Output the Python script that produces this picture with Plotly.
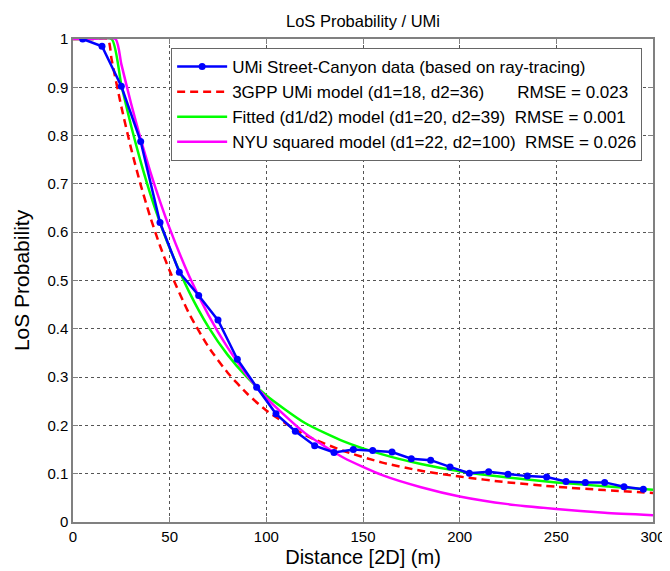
import plotly.graph_objects as go

# ---- data ----
data_x = [5, 15, 25, 35, 45, 55, 65, 75, 85, 95,
          105, 115, 125, 135, 145, 155, 165, 175, 185, 195,
          205, 215, 225, 235, 245, 255, 265, 275, 285, 295]
data_y = [1.0, 0.985, 0.902, 0.788, 0.62, 0.517, 0.469, 0.418, 0.337, 0.279,
          0.224, 0.188, 0.158, 0.144, 0.150, 0.148, 0.145, 0.131, 0.128, 0.114,
          0.101, 0.104, 0.099, 0.095, 0.093, 0.084, 0.082, 0.082, 0.073, 0.068]

gpp_x = [0, 10, 18, 20, 25, 30, 35, 40, 45, 50, 60, 70, 80, 90, 100,
         120, 140, 160, 180, 200, 225, 250, 275, 300]
gpp_y = [1.0, 1.0, 1.0, 0.957, 0.860, 0.774, 0.698, 0.631, 0.572, 0.520, 0.432, 0.363, 0.309, 0.266, 0.231,
         0.180, 0.147, 0.123, 0.106, 0.094, 0.082, 0.073, 0.066, 0.060]

fit_x = [0, 10, 20, 25, 30, 35, 40, 45, 50, 60, 70, 80, 90, 100,
         120, 140, 160, 180, 200, 225, 250, 275, 300]
fit_y = [1.0, 1.0, 1.0, 0.905, 0.821, 0.746, 0.679, 0.620, 0.567, 0.477, 0.404, 0.346, 0.300, 0.262,
         0.205, 0.167, 0.140, 0.120, 0.105, 0.092, 0.082, 0.074, 0.067]

nyu_x = [0, 10, 22, 25, 30, 35, 40, 45, 50, 60, 70, 80, 90, 100,
         120, 140, 160, 180, 200, 225, 250, 275, 300]
nyu_y = [1.0, 1.0, 1.0, 0.948, 0.867, 0.793, 0.725, 0.664, 0.608, 0.510, 0.429, 0.361, 0.304, 0.257,
         0.184, 0.133, 0.097, 0.072, 0.053, 0.037, 0.027, 0.019, 0.014]

NB = "\u00a0"
names = [
    "UMi Street-Canyon data (based on ray-tracing)",
    "3GPP UMi model (d1=18, d2=36)" + NB * 7 + "RMSE = 0.023",
    "Fitted (d1/d2) model (d1=20, d2=39)" + NB * 2 + "RMSE = 0.001",
    "NYU squared model (d1=22, d2=100)" + NB * 2 + "RMSE = 0.026",
]

x_ticks = [0, 50, 100, 150, 200, 250, 300]
y_ticks = [0, 0.1, 0.2, 0.3, 0.4, 0.5, 0.6, 0.7, 0.8, 0.9, 1]
y_labels = ["0", "0.1", "0.2", "0.3", "0.4", "0.5", "0.6", "0.7", "0.8", "0.9", "1"]

FONT = "Liberation Sans, Arial, sans-serif"

fig = go.Figure()
fig.add_trace(go.Scatter(x=gpp_x, y=gpp_y, mode="lines", name=names[1], legendrank=2,
                         line=dict(color="#ff0000", width=2.5, dash="8px,5px", shape="spline", smoothing=0.6)))
fig.add_trace(go.Scatter(x=fit_x, y=fit_y, mode="lines", name=names[2], legendrank=3,
                         line=dict(color="#00ff00", width=2.5, shape="spline", smoothing=0.6)))
fig.add_trace(go.Scatter(x=nyu_x, y=nyu_y, mode="lines", name=names[3], legendrank=4,
                         line=dict(color="#ff00ff", width=2.5, shape="spline", smoothing=0.6)))
fig.add_trace(go.Scatter(x=data_x, y=data_y, mode="lines+markers", name=names[0], legendrank=1,
                         line=dict(color="#0000ff", width=2.5),
                         marker=dict(color="#0000ff", size=7, symbol="circle")))

axis_common = dict(
    showline=True, linecolor="#808080", linewidth=1.5, mirror="ticks",
    ticks="inside", ticklen=5, tickwidth=1, tickcolor="#808080",
    showgrid=True, gridcolor="#555555", gridwidth=1, griddash="dot",
    zeroline=False, tickfont=dict(size=15, color="#000000", family=FONT),
)

fig.update_layout(
    width=670, height=571,
    margin=dict(l=65, r=14, t=31, b=57),
    paper_bgcolor="white", plot_bgcolor="white",
    font=dict(family=FONT, color="#000000"),
    title=dict(text="LoS Probability / UMi", x=0.5, xref="paper", y=1 - 13 / 571, yanchor="middle",
               xanchor="center", font=dict(size=16.5, family=FONT, color="#000000")),
    xaxis=dict(range=[0, 300], tickvals=x_ticks, title=dict(text="Distance [2D] (m)", standoff=6,
               font=dict(size=20, family=FONT)), **axis_common),
    yaxis=dict(range=[0, 1], tickvals=y_ticks, ticktext=y_labels,
               title=dict(text="LoS Probability", standoff=12, font=dict(size=21, family=FONT)),
               **axis_common),
    legend=dict(x=(165 - 65) / 591, y=(514 - 40) / 483, xanchor="left", yanchor="top",
                bgcolor="white", bordercolor="#666666", borderwidth=1,
                font=dict(size=17, family=FONT, color="#000000"),
                itemwidth=50, tracegroupgap=0),
    showlegend=True,
)

fig.write_html("out.html")
